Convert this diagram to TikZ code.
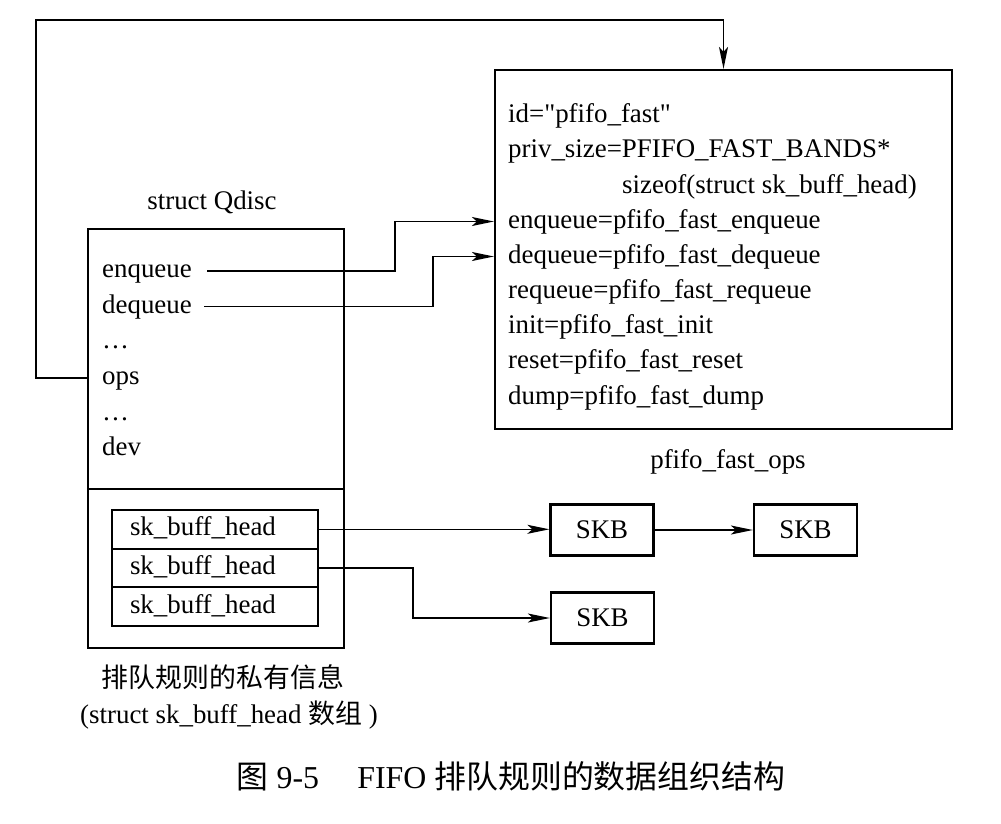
\documentclass[tikz,border=0pt]{standalone}
\usepackage{fontspec}
\setmainfont{Liberation Serif}
\newfontfamily\plainq{Liberation Serif}
\newfontfamily\cjk{Noto Sans CJK SC}
\usetikzlibrary{arrows.meta}
\begin{document}
\begin{tikzpicture}[x=1bp,y=-1bp,
  every node/.style={font=\fontsize{27}{32}\selectfont},
  box/.style={draw, line width=2.2bp, inner sep=0pt},
  fld/.style={anchor=west, inner sep=0pt, text height=19bp, text depth=6bp},
  conn/.style={line width=1.6bp},
  arr/.style={conn, -{Stealth[length=22bp,width=9bp,inset=5bp]}},
  skbox/.style={draw, line width=2.2bp, minimum width=103bp, minimum height=51bp, inner sep=0pt},
  skrow/.style={draw, line width=1.9bp, text width=170bp, align=left, inner xsep=18bp, inner ysep=0pt, minimum height=38.7bp, text height=19bp, text depth=6bp}
]
\useasboundingbox (0,0) rectangle (1001,824);

% struct Qdisc
\node[box, minimum width=256bp, minimum height=419bp] (qd) at (216,438.5) {};
\coordinate (div) at (216,489);
\draw[line width=2.2bp] (qd.west |- div) -- (qd.east |- div);
\node (qdl) at (212,202) {struct Qdisc};
\node[fld] (qenq) at (102,271) {enqueue};
\node[fld] (qdeq) at (102,306.5) {dequeue};
\node[fld] (qdots1) at (102,342) {\dots};
\node[fld] (qops) at (102,378) {ops};
\node[fld] (qdots2) at (102,413.5) {\dots};
\node[fld] (qdev) at (102,449) {dev};

% sk_buff_head rows
\node[skrow] (sk1) at (215,529.3) {sk\_buff\_head};
\node[skrow] (sk2) at (215,568) {sk\_buff\_head};
\node[skrow] (sk3) at (215,606.7) {sk\_buff\_head};

% ops box
\node[box, minimum width=457bp, minimum height=359bp] (ops) at (723.5,249.5) {};
\node[fld] (oid) at (508,115.5) {id={\plainq"}pfifo\_fast{\plainq"}};
\node[fld] (opriv) at (508,151) {priv\_size=PFIFO\_FAST\_BANDS*};
\node[fld] (osize) at (622,186.5) {sizeof(struct sk\_buff\_head)};
\node[fld] (oenq) at (508,221.5) {enqueue=pfifo\_fast\_enqueue};
\node[fld] (odeq) at (508,256.5) {dequeue=pfifo\_fast\_dequeue};
\node[fld] (oreq) at (508,291.5) {requeue=pfifo\_fast\_requeue};
\node[fld] (oinit) at (508,326.5) {init=pfifo\_fast\_init};
\node[fld] (oreset) at (508,361.5) {reset=pfifo\_fast\_reset};
\node[fld] (odump) at (508,397.5) {dump=pfifo\_fast\_dump};
\node (opl) at (728,462) {pfifo\_fast\_ops};

% SKB boxes
\node[skbox] (skb1) at (602,530) {SKB};
\node[skbox] (skb2) at (805.5,530) {SKB};
\node[skbox] (skb3) at (602.5,618) {SKB};

% connectors
\draw[arr] ([xshift=15bp]qenq.east) -- ++(188,0) |- (ops.west |- oenq.west);
\draw[arr] ([xshift=12bp]qdeq.east) -- ++(229,0) |- (ops.west |- odeq.west);
\coordinate (loopTL) at (36,20);
\draw[arr] (qd.west |- qops.west) -| (loopTL) -| (ops.north);
\draw[arr] (sk1.east) -- (skb1.west |- sk1.east);
\draw[arr] (skb1.east) -- (skb2.west);
\draw[arr] (sk2.east) -- ++(94,0) |- (skb3.west);

% labels
\node (pl1) at (223,677) {\cjk 排队规则的私有信息};
\node[anchor=west, inner sep=0pt] (pl2) at (80,715) {(struct sk\_buff\_head {\cjk 数组} )};
\node (cap) at (511,776) {\fontsize{32}{38}\selectfont{\cjk 图} 9-5\hspace{1.2em}FIFO {\cjk 排队规则的数据组织结构}};
\end{tikzpicture}
\end{document}
